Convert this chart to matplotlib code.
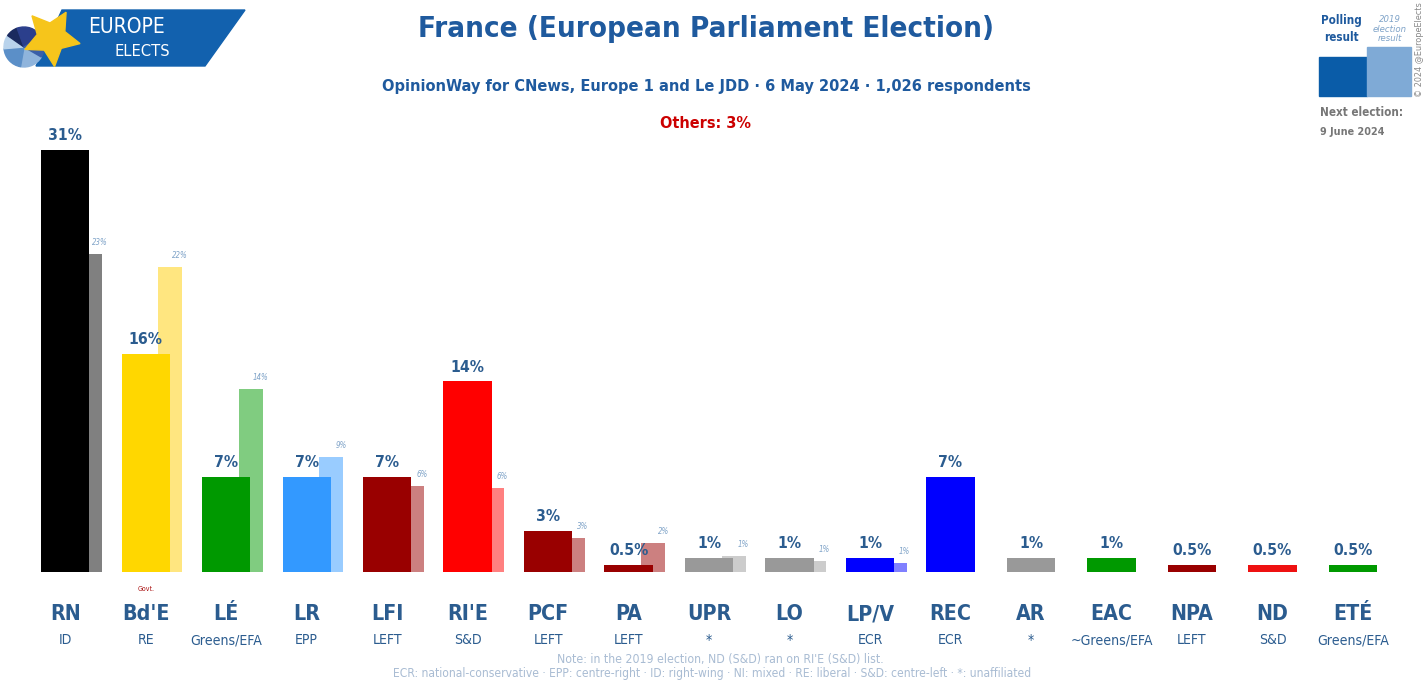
import os
import numpy as np
import matplotlib
matplotlib.use('Agg')
import matplotlib.pyplot as plt
import matplotlib.font_manager as fm
from matplotlib.patches import Polygon, Rectangle, Wedge

# data
parties = ['RN', "Bd'E", 'LÉ', 'LR', 'LFI', "RI'E", 'PCF', 'PA', 'UPR', 'LO',
           'LP/V', 'REC', 'AR', 'EAC', 'NPA', 'ND', 'ETÉ']
groups = ['ID', 'RE', 'Greens/EFA', 'EPP', 'LEFT', 'S&D', 'LEFT', 'LEFT', '*', '*',
          'ECR', 'ECR', '*', '~Greens/EFA', 'LEFT', 'S&D', 'Greens/EFA']
poll = [31, 16, 7, 7, 7, 14, 3, 0.5, 1, 1, 1, 7, 1, 1, 0.5, 0.5, 0.5]
poll_labels = ['31%', '16%', '7%', '7%', '7%', '14%', '3%', '0.5%', '1%', '1%',
               '1%', '7%', '1%', '1%', '0.5%', '0.5%', '0.5%']
res2019 = [23.34, 22.42, 13.48, 8.48, 6.31, 6.19, 2.49, 2.16, 1.17, 0.78, 0.65,
           None, None, None, None, None, None]
res2019_labels = ['23%', '22%', '14%', '9%', '6%', '6%', '3%', '2%', '1%', '1%', '1%',
                  None, None, None, None, None, None]
colors = ['#000000', '#FFD700', '#009900', '#3399FF', '#990000', '#FF0000', '#990000',
          '#990000', '#999999', '#999999', '#0000FF', '#0000FF', '#999999', '#009900',
          '#990000', '#EE1111', '#009900']
colors2019 = ['#808080', '#FFE680', '#80CC80', '#99CCFF', '#CC8080', '#FF8080', '#CC8080',
              '#CC8080', '#CCCCCC', '#CCCCCC', '#8080FF', None, None, None, None, None, None]

# pick a condensed font if one is installed, the original uses a narrow one
allfiles = set(fm.findSystemFonts()) | {f.fname for f in fm.fontManager.ttflist}
byname = {os.path.basename(p): p for p in allfiles}

def pick(names, fallback):
    for n in names:
        if n in byname:
            return fm.FontProperties(fname=byname[n])
    return fallback

F_BOLD = pick(['NotoSans-CondensedSemiBold.ttf', 'NotoSans-CondensedBold.ttf',
               'LiberationSansNarrow-Bold.ttf', 'DejaVuSansCondensed-Bold.ttf'],
              fm.FontProperties(family='DejaVu Sans', weight='bold'))
F_REG = pick(['NotoSans-CondensedMedium.ttf', 'NotoSans-Condensed.ttf',
              'NotoSans-CondensedRegular.ttf', 'LiberationSansNarrow-Regular.ttf',
              'DejaVuSansCondensed.ttf'],
             fm.FontProperties(family='DejaVu Sans'))
F_LIGHT = pick(['NotoSans-CondensedLight.ttf', 'NotoSans-Condensed.ttf',
                'LiberationSansNarrow-Regular.ttf', 'DejaVuSansCondensed.ttf'],
               fm.FontProperties(family='DejaVu Sans'))
F_ITAL = pick(['NotoSans-CondensedItalic.ttf', 'LiberationSansNarrow-Italic.ttf',
               'DejaVuSansCondensed-Oblique.ttf'],
              fm.FontProperties(family='DejaVu Sans', style='italic'))

W, H = 1427, 683
BLUE = '#1F5A9E'
LBL = '#2B5C8F'

fig = plt.figure(figsize=(W / 100, H / 100), dpi=100)
ax = fig.add_axes([0, 0, 1, 1])
ax.axis('off')
pxpct = 13.61
base = 572
ax.set_xlim(-0.81, 16.92)
ax.set_ylim(-(H - base) / pxpct, base / pxpct)

x = np.arange(len(parties))
lab19, labval, labparty, labgroup = [], [], [], []
for i in x:
    if res2019[i] is not None:
        ax.bar(i + 0.305, res2019[i], width=0.3, color=colors2019[i], zorder=1)
        lab19.append(ax.annotate(res2019_labels[i], (i + 0.43, res2019[i]), xytext=(0, 5),
                                 textcoords='offset points', ha='center', va='bottom',
                                 fontproperties=F_ITAL, fontsize=7, color='#7FA3C8',
                                 zorder=3))
ax.bar(x, poll, width=0.6, color=colors, zorder=2)
for i in x:
    labval.append(ax.annotate(poll_labels[i], (i, poll[i]), xytext=(0, 5),
                              textcoords='offset points', ha='center', va='bottom',
                              fontproperties=F_BOLD, fontsize=14, color=LBL, zorder=4))
    labparty.append(ax.text(i, -42 / pxpct, parties[i], ha='center', va='center',
                            fontproperties=F_BOLD, fontsize=15, color=LBL))
    labgroup.append(ax.text(i, -68 / pxpct, groups[i], ha='center', va='center',
                            fontproperties=F_REG, fontsize=10.5, color=LBL))
govt = ax.text(1, -17 / pxpct, 'Govt.', ha='center', va='center', fontproperties=F_REG,
               fontsize=6.5, color='#AA1111')

# overlay in pixel coords for header, logo, legend and notes
ov = fig.add_axes([0, 0, 1, 1], facecolor='none')
ov.set_xlim(0, W)
ov.set_ylim(H, 0)
ov.axis('off')

title = ov.text(706, 29, 'France (European Parliament Election)', ha='center',
                va='center', fontproperties=F_BOLD, fontsize=24, color=BLUE)
sub = ov.text(706, 87, 'OpinionWay for CNews, Europe 1 and Le JDD · 6 May 2024 · '
              '1,026 respondents', ha='center', va='center', fontproperties=F_BOLD,
              fontsize=14, color=BLUE)
others = ov.text(706, 123, 'Others: 3%', ha='center', va='center', fontproperties=F_BOLD,
                 fontsize=13, color='#CC0000')

# logo
ov.add_patch(Polygon([(62, 10), (245, 10), (205, 66), (36, 66)], closed=True,
                     color='#1261AE', zorder=1))
for t1, t2, c in [(30, 100, '#8FB4DC'), (100, 175, '#5B8FC8'), (175, 215, '#B9D3EC'),
                  (215, 250, '#1A2A5E'), (250, 330, '#2B3F8C'), (330, 390, '#3A5FA8')]:
    ov.add_patch(Wedge((24, 47), 20, t1, t2, color=c, zorder=2))
ov.plot([51], [37], marker=(5, 1, -30), markersize=42, color='#F6C51B', mec='#F6C51B',
        zorder=3)
eu = ov.text(126, 27, 'EUROPE', ha='center', va='center', fontproperties=F_LIGHT,
             fontsize=15, color='white', zorder=4)
el = ov.text(142, 51, 'ELECTS', ha='center', va='center', fontproperties=F_LIGHT,
             fontsize=12.5, color='white', zorder=4)

# legend
ov.add_patch(Rectangle((1319, 57), 48, 39, color='#0A5CA8'))
ov.add_patch(Rectangle((1367, 47), 44, 49, color='#7FAAD6'))
pol = ov.text(1341, 29, 'Polling\nresult', ha='center', va='center', fontproperties=F_BOLD,
              fontsize=10, color=BLUE, linespacing=1.35)
e19 = ov.text(1390, 29, '2019\nelection\nresult', ha='center', va='center',
              fontproperties=F_ITAL, fontsize=7, color='#7FA3C8', linespacing=1.1)
nxt = ov.text(1320, 112, 'Next election:', ha='left', va='center', fontproperties=F_BOLD,
              fontsize=10, color='#777777')
dte = ov.text(1320, 132, '9 June 2024', ha='left', va='center', fontproperties=F_BOLD,
              fontsize=8.5, color='#777777')
cop = ov.text(1420, 50, '© 2024 @EuropeElects', rotation=90, ha='center', va='center',
              fontproperties=F_REG, fontsize=6.5, color='#888888')

# notes
n1 = ov.text(720, 659, "Note: in the 2019 election, ND (S&D) ran on RI'E (S&D) list.",
             ha='center', va='center', fontproperties=F_REG, fontsize=9, color='#A9BCD3')
n2 = ov.text(712, 673, 'ECR: national-conservative · EPP: centre-right · ID: right-wing · '
             'NI: mixed · RE: liberal · S&D: centre-left · *: unaffiliated',
             ha='center', va='center', fontproperties=F_REG, fontsize=9, color='#A9BCD3')

# scale font sizes so the text widths match the original
renderer = fig.canvas.get_renderer()

def fit(texts, sample, width, vertical=False):
    bb = sample.get_window_extent(renderer)
    k = width / (bb.height if vertical else bb.width)
    for t in texts:
        t.set_fontsize(t.get_fontsize() * k)

fit([title], title, 575)
fit([sub], sub, 648)
fit([others], others, 90)
fit(labval, labval[0], 34)
fit(labparty, labparty[10], 48)
fit(labgroup, labgroup[2], 72)
fit(lab19, lab19[0], 16)
fit([govt], govt, 17)
fit([eu], eu, 77)
fit([el], el, 55)
fit([pol], pol, 40)
fit([e19], e19, 34)
fit([nxt], nxt, 82)
fit([dte], dte, 64)
fit([cop], cop, 94, vertical=True)
fit([n1], n1, 326)
fit([n2], n2, 638)

fig.savefig('out.png', dpi=100)
